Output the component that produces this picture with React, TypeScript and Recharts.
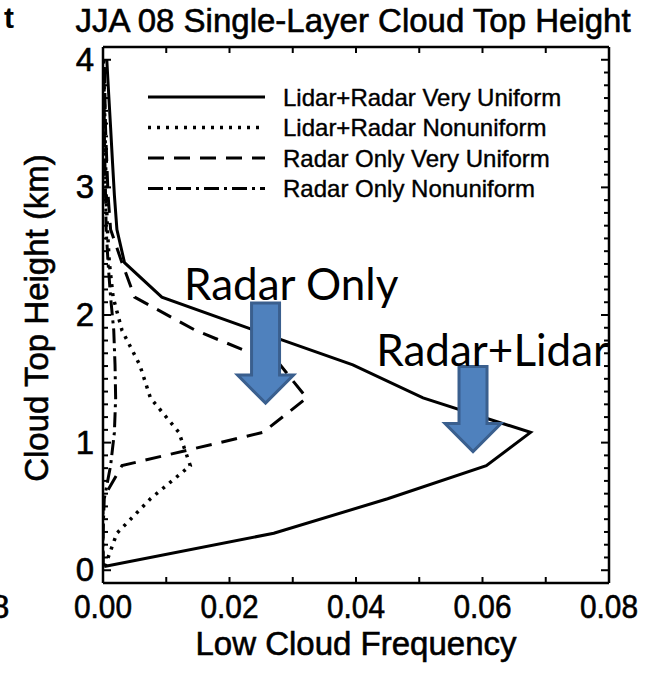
import { ScatterChart, Scatter, XAxis, YAxis, Legend, ReferenceDot } from "recharts";

// cloud top height bins (km)
const heights = [0.03, 0.29, 0.56, 0.82, 1.08, 1.35, 1.61, 1.88, 2.14, 2.41, 2.67, 2.94, 3.2, 3.47, 3.73, 4.0];

// low cloud frequency per height bin
const lidarRadarUniform = [0.0002, 0.027, 0.045, 0.0606, 0.0676, 0.0506, 0.0395, 0.024, 0.0093, 0.0034, 0.0022, 0.0018, 0.0015, 0.0012, 0.0009, 0.0006];
const lidarRadarNonuniform = [0.0003, 0.0022, 0.0075, 0.0138, 0.012, 0.0075, 0.0058, 0.003, 0.0016, 0.001, 0.0007, 0.0005, 0.0004, 0.0003, 0.0002, 0.0001];
const radarOnlyUniform = [0, 0, 0, 0.003, 0.0253, 0.0322, 0.028, 0.0146, 0.005, 0.003, 0.0012, 0.0008, 0.0006, 0.0004, 0.0003, 0.0002];
const radarOnlyNonuniform = [0, 0, 0.0002, 0.0012, 0.0018, 0.002, 0.0019, 0.0017, 0.0012, 0.0008, 0.0005, 0.0004, 0.0003, 0.0002, 0.0002, 0.0001];

const seriesNames = [
  "Lidar+Radar Very Uniform",
  "Lidar+Radar Nonuniform",
  "Radar Only Very Uniform",
  "Radar Only Nonuniform",
];

const xTicks = [0, 0.01, 0.02, 0.03, 0.04, 0.05, 0.06, 0.07, 0.08];
const yTicks = Array.from({ length: 41 }, (_, i) => i / 10);

// annotations: label text + arrow tip position (data coords)
const annotations = [
  { text: "Radar Only", textX: 0.0128, textY: 2.12, tipX: 0.0257, tipY: 1.31 },
  { text: "Radar+Lidar", textX: 0.0432, textY: 1.6, tipX: 0.0585, tipY: 0.93 },
];
const ARROW_SHAFTS = [100, 85];

const FONT = '"Liberation Sans", Arial, Helvetica, sans-serif';
const ANNOT_FONT = 'Lato, "Open Sans", sans-serif';
const ARROW_FILL = "#4F81BD";
const ARROW_STROKE = "#3A5F8E";
const TEXT_STROKE = 0.6; // reference text is a touch heavier than regular

const STYLES = [
  { strokeWidth: 3, strokeDasharray: undefined as string | undefined },
  { strokeWidth: 3.5, strokeDasharray: "3 6" },
  { strokeWidth: 3, strokeDasharray: "16 10" },
  { strokeWidth: 3, strokeDasharray: "15 5 3 5" },
];

const toPoints = (values: number[]) => values.map((f, i) => ({ f, h: heights[i] }));
const allSeries = [lidarRadarUniform, lidarRadarNonuniform, radarOnlyUniform, radarOnlyNonuniform];

const isMajorX = (v: number) => Math.round(v * 100) % 2 === 0;
const isMajorY = (v: number) => Math.abs(v - Math.round(v)) < 1e-6;

const textProps = { fontFamily: FONT, fill: "#000", stroke: "#000", strokeWidth: TEXT_STROKE };

function BottomTick({ x, y, payload }: any) {
  const v = payload.value;
  return (
    <g>
      <line x1={x} y1={y} x2={x} y2={y - 6} stroke="#000" strokeWidth={2} />
      {isMajorX(v) && (
        <text x={x} y={y + 35} textAnchor="middle" fontSize={33} textLength={58} lengthAdjust="spacingAndGlyphs" {...textProps}>
          {v.toFixed(2)}
        </text>
      )}
    </g>
  );
}

function TopTick({ x, y }: any) {
  return <line x1={x} y1={y} x2={x} y2={y + 6} stroke="#000" strokeWidth={2} />;
}

function LeftTick({ x, y, payload }: any) {
  const v = payload.value;
  const major = isMajorY(v);
  return (
    <g>
      <line x1={x} y1={y} x2={x + (major ? 8 : 5)} y2={y} stroke="#000" strokeWidth={2} />
      {major && (
        <text x={x - 9} y={y + 11} textAnchor="end" fontSize={33} {...textProps}>
          {Math.round(v)}
        </text>
      )}
    </g>
  );
}

function RightTick({ x, y, payload }: any) {
  const major = isMajorY(payload.value);
  return <line x1={x} y1={y} x2={x - (major ? 8 : 5)} y2={y} stroke="#000" strokeWidth={2} />;
}

function LegendContent() {
  return (
    <svg width={470} height={130} style={{ display: "block" }}>
      {seriesNames.map((name, i) => {
        const cy = 19 + i * 30.5;
        return (
          <g key={name}>
            <line x1={8} y1={cy} x2={125} y2={cy} stroke="#000" strokeWidth={STYLES[i].strokeWidth} strokeDasharray={STYLES[i].strokeDasharray} />
            <text x={143} y={cy + 8.5} fontSize={24} {...textProps} strokeWidth={0.4}>
              {name}
            </text>
          </g>
        );
      })}
    </svg>
  );
}

function makeArrow(shaft: number) {
  return ({ cx, cy }: any) => {
    const head = 28;
    const sw = 14;
    const d = `M ${cx - sw} ${cy - shaft} L ${cx + sw} ${cy - shaft} L ${cx + sw} ${cy - head} L ${cx + head} ${cy - head} L ${cx} ${cy} L ${cx - head} ${cy - head} L ${cx - sw} ${cy - head} Z`;
    return <path d={d} fill={ARROW_FILL} stroke={ARROW_STROKE} strokeWidth={3} strokeLinejoin="miter" />;
  };
}

function makeLabel(text: string) {
  return ({ cx, cy }: any) => (
    <text x={cx} y={cy} fontSize={44} fontFamily={ANNOT_FONT} fill="#000">
      {text}
    </text>
  );
}

export default function App() {
  return (
    <div style={{ position: "absolute", left: 0, top: 0, width: 656, height: 674, background: "#fff" }}>
      <ScatterChart width={656} height={674} margin={{ top: 0, right: 0, bottom: 0, left: 0 }}>
        <XAxis
          xAxisId="bottom"
          dataKey="f"
          type="number"
          orientation="bottom"
          domain={[0, 0.08]}
          allowDataOverflow
          ticks={xTicks}
          interval={0}
          height={91}
          tickSize={0}
          tickMargin={0}
          tickLine={false}
          axisLine={{ stroke: "#000", strokeWidth: 2.5 }}
          tick={BottomTick}
        />
        <XAxis
          xAxisId="top"
          dataKey="f"
          type="number"
          orientation="top"
          domain={[0, 0.08]}
          allowDataOverflow
          ticks={xTicks}
          interval={0}
          height={47}
          tickSize={0}
          tickMargin={0}
          tickLine={false}
          axisLine={{ stroke: "#000", strokeWidth: 2.5 }}
          tick={TopTick}
        />
        <YAxis
          yAxisId="left"
          dataKey="h"
          type="number"
          orientation="left"
          domain={[-0.1, 4.1]}
          allowDataOverflow
          ticks={yTicks}
          interval={0}
          width={103}
          tickSize={0}
          tickMargin={0}
          tickLine={false}
          axisLine={{ stroke: "#000", strokeWidth: 2.5 }}
          tick={LeftTick}
        />
        <YAxis
          yAxisId="right"
          dataKey="h"
          type="number"
          orientation="right"
          domain={[-0.1, 4.1]}
          allowDataOverflow
          ticks={yTicks}
          interval={0}
          width={47}
          tickSize={0}
          tickMargin={0}
          tickLine={false}
          axisLine={{ stroke: "#000", strokeWidth: 2.5 }}
          tick={RightTick}
        />
        {allSeries.map((values, i) => (
          <Scatter
            key={seriesNames[i]}
            name={seriesNames[i]}
            data={toPoints(values)}
            xAxisId="bottom"
            yAxisId="left"
            line={{ stroke: "#000", strokeWidth: STYLES[i].strokeWidth, strokeDasharray: STYLES[i].strokeDasharray }}
            lineJointType="linear"
            shape={() => <g />}
            isAnimationActive={false}
          />
        ))}
        {annotations.map((a, i) => (
          <ReferenceDot key={a.text + "-arrow"} xAxisId="bottom" yAxisId="left" x={a.tipX} y={a.tipY} ifOverflow="visible" shape={makeArrow(ARROW_SHAFTS[i])} />
        ))}
        {annotations.map((a) => (
          <ReferenceDot key={a.text + "-label"} xAxisId="bottom" yAxisId="left" x={a.textX} y={a.textY} ifOverflow="visible" shape={makeLabel(a.text)} />
        ))}
        <Legend
          layout="horizontal"
          verticalAlign="middle"
          align="center"
          content={LegendContent}
          wrapperStyle={{ left: 140, top: 78, width: 470, height: 130 }}
        />
      </ScatterChart>
      <svg width={656} height={674} style={{ position: "absolute", left: 0, top: 0, pointerEvents: "none" }}>
        <text x={4} y={28} fontSize={30} fontWeight="bold" fontFamily={FONT} fill="#000">t</text>
        <text x={-9} y={618} fontSize={33} {...textProps}>8</text>
        <text x={353} y={32} textAnchor="middle" fontSize={33} {...textProps}>
          JJA 08 Single-Layer Cloud Top Height
        </text>
        <text x={356} y={655} textAnchor="middle" fontSize={33} {...textProps}>
          Low Cloud Frequency
        </text>
        <text transform="translate(48, 318) rotate(-90)" textAnchor="middle" fontSize={33} {...textProps}>
          Cloud Top Height (km)
        </text>
      </svg>
    </div>
  );
}
